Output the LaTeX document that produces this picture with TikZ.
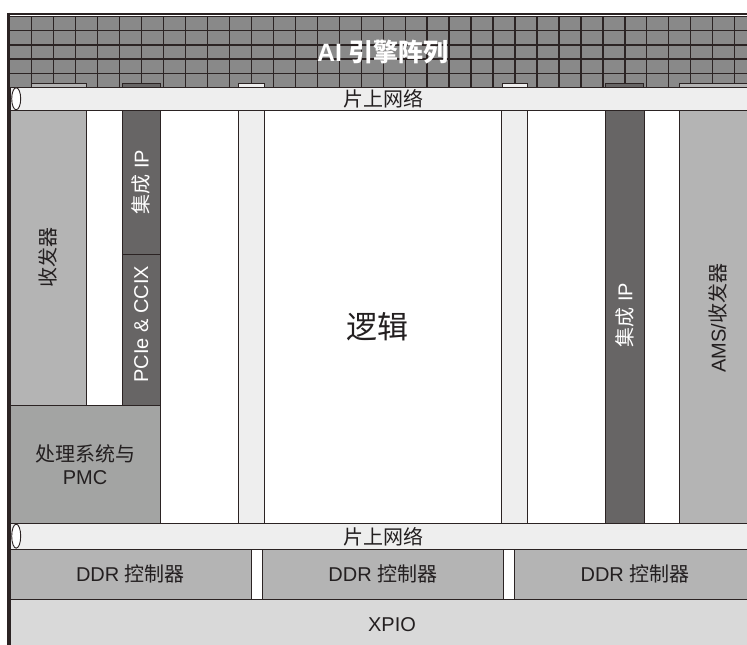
\documentclass[tikz,border=0pt]{standalone}
\usepackage{fontspec}
\setmainfont{Liberation Sans}
\newfontfamily\cjk{Noto Sans CJK SC}
\newcommand\zh[1]{{\cjk #1}}
\definecolor{lc}{HTML}{2B2323}
\definecolor{tc}{HTML}{231F20}
\definecolor{gridfill}{HTML}{898989}
\definecolor{nocfill}{HTML}{EEEEEE}
\definecolor{midgrey}{HTML}{B4B4B4}
\definecolor{psgrey}{HTML}{A3A4A3}
\definecolor{darkip}{HTML}{676565}
\definecolor{xpiofill}{HTML}{D9D9D9}
\tikzset{
  blk/.style={draw=lc, line width=1pt, inner sep=0pt, outer sep=0pt, text=tc, font=\fontsize{20}{23}\selectfont, align=center},
  lbl/.style={inner sep=0pt, text=tc, font=\fontsize{20}{23}\selectfont, align=center},
}
\begin{document}
\begin{tikzpicture}[x=1pt,y=-1pt]
\useasboundingbox (0,0) rectangle (747,645);
\clip (0,0) rectangle (747,645);
% AI engine grid
\fill[gridfill] (9.7,16.5) rectangle (770,87);
\foreach \yy in {16.5,30.7,44.9,59.1,73.3}
  \draw[lc, line width=1.3pt] (9.7,\yy) -- (770,\yy);
\foreach \k in {1,...,34}
  \draw[lc, line width=1.3pt] ({9.7+21.97*\k},16.5) -- ({9.7+21.97*\k},87);
% top frame
\draw[lc, line width=2pt] (8.7,13.5) -- (770,13.5);
\node[inner sep=0pt, text=white, font=\fontsize{25}{28}\selectfont\bfseries] (ai) at (383,52) {AI \zh{引擎阵列}};
% stubs above top NoC
\draw[lc, line width=0.8pt, fill=midgrey] (31.7,83) rectangle (86,87);
\draw[lc, line width=0.8pt, fill=darkip] (122.3,83) rectangle (160,87);
\draw[lc, line width=0.8pt, fill=nocfill] (238.3,83) rectangle (264,87);
\draw[lc, line width=0.8pt, fill=nocfill] (502,83) rectangle (527.3,87);
\draw[lc, line width=0.8pt, fill=darkip] (605.3,83) rectangle (643.7,87);
\draw[lc, line width=0.8pt, fill=midgrey] (679,83) rectangle (770,87);
% top NoC
\node[blk, fill=nocfill, minimum width=747pt, minimum height=23.5pt, anchor=center] (noctop) at (383.5,98.75) {};
\node[lbl] (noctoplbl) at (383.5,99) {\zh{片上网络}};
\draw[lc, line width=0.9pt, fill=white] (16.2,98.75) ellipse [x radius=4.5pt, y radius=11pt];
% columns
\node[blk, fill=midgrey, minimum width=76.7pt, minimum height=294.5pt] (trans) at (48.35,257.75) {};
\node[lbl, rotate=90] (translbl) at (48.35,257.75) {\zh{收发器}};
\node[blk, fill=darkip, minimum width=37.7pt, minimum height=143.5pt] (ip1) at (141.15,182.25) {};
\node[lbl, rotate=90, text=white] (ip1lbl) at (141.15,182) {\zh{集成} IP};
\node[blk, fill=darkip, minimum width=37.7pt, minimum height=151pt] (pcie) at (141.15,329.5) {};
\node[lbl, rotate=90, text=white] (pcielbl) at (141.15,324) {PCIe \& CCIX};
\node[blk, fill=psgrey, minimum width=150pt, minimum height=118.3pt] (ps) at (85,464.15) {};
\node[lbl] (pslbl) at (85,465) {\zh{处理系统与}\\PMC};
\node[blk, fill=nocfill, minimum width=25.3pt, minimum height=412.8pt] (lc1) at (251.35,316.9) {};
\node[blk, fill=nocfill, minimum width=25.3pt, minimum height=412.8pt] (lc2) at (514.35,316.9) {};
\node[lbl, font=\fontsize{31}{34}\selectfont] (logic) at (377,327) {\zh{逻辑}};
\node[blk, fill=darkip, minimum width=38.3pt, minimum height=412.8pt] (ip2) at (624.85,316.9) {};
\node[lbl, rotate=90, text=white] (ip2lbl) at (624.85,315) {\zh{集成} IP};
\node[blk, fill=midgrey, minimum width=90pt, minimum height=412.8pt] (ams) at (724.3,316.9) {};
\node[lbl, rotate=90] (amslbl) at (718,318) {AMS/\zh{收发器}};
% bottom NoC
\node[blk, fill=nocfill, minimum width=747pt, minimum height=25.7pt] (nocbot) at (383.5,536.15) {};
\node[lbl] (nocbotlbl) at (383.5,537) {\zh{片上网络}};
\draw[lc, line width=0.9pt, fill=white] (16.2,536.15) ellipse [x radius=4.5pt, y radius=12pt];
% DDR
\node[blk, fill=midgrey, minimum width=241pt, minimum height=50pt] (ddr1) at (130.5,574) {DDR \zh{控制器}};
\node[blk, fill=midgrey, minimum width=241.7pt, minimum height=50pt] (ddr2) at (382.85,574) {DDR \zh{控制器}};
\node[blk, fill=midgrey, minimum width=240.6pt, minimum height=50pt] (ddr3) at (635,574) {DDR \zh{控制器}};
% XPIO
\node[blk, fill=xpiofill, minimum width=764pt, minimum height=51pt] (xpio) at (392,624.5) {XPIO};
% left frame
\draw[lc, line width=2.5pt] (8.7,12.5) -- (8.7,650);
\end{tikzpicture}
\end{document}
